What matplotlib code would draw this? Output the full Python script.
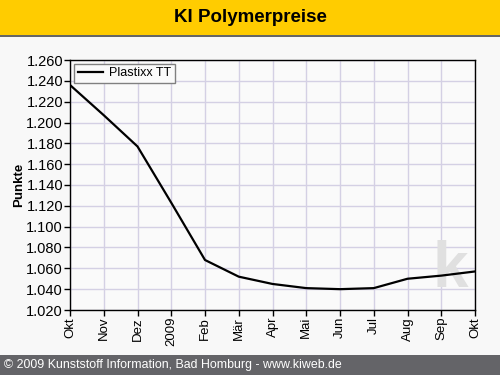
import matplotlib
matplotlib.use("Agg")
import matplotlib.pyplot as plt

# Data
months = ["Okt", "Nov", "Dez", "2009", "Feb", "Mär", "Apr", "Mai",
          "Jun", "Jul", "Aug", "Sep", "Okt"]
plastixx_tt = [1.236, 1.207, 1.177, 1.123, 1.068, 1.052, 1.045, 1.041,
               1.040, 1.041, 1.050, 1.053, 1.057]
y_ticks = [1.020 + 0.020 * i for i in range(13)]
y_labels = [f"{v:.3f}" for v in y_ticks]

plt.rcParams["font.family"] = ["Liberation Sans", "DejaVu Sans"]

fig = plt.figure(figsize=(5, 3.75), dpi=100)
fig.patch.set_facecolor("#f8f8f8")

# Title band
fig.patches.append(plt.Rectangle((0, 1 - 35 / 375), 1, 35 / 375, transform=fig.transFigure,
                                 facecolor="#ffcc00", edgecolor="none", zorder=0))
fig.patches.append(plt.Rectangle((0, 1 - 37 / 375), 1, 2 / 375, transform=fig.transFigure,
                                 facecolor="#666666", edgecolor="none", zorder=0))
fig.text(0.5, 1 - 18 / 375, "KI Polymerpreise", ha="center", va="center",
         fontsize=13.5, fontweight="bold", color="black")

# Footer band
fig.patches.append(plt.Rectangle((0, 0), 1, 20 / 375, transform=fig.transFigure,
                                 facecolor="#646468", edgecolor="none", zorder=0))
fig.text(4 / 500, 10 / 375, "© 2009 Kunststoff Information, Bad Homburg - www.kiweb.de",
         ha="left", va="center", fontsize=8.9, color="white")

ax = fig.add_axes([70 / 500, 1 - 310 / 375, 405 / 500, 250 / 375])
ax.set_facecolor("#fafafa")
x = list(range(len(months)))
ax.plot(x, plastixx_tt, color="black", linewidth=1.6, label="Plastixx TT", zorder=3)

ax.set_xlim(0, len(months) - 1)
ax.set_ylim(1.020, 1.260)
ax.set_xticks(x)
ax.set_xticklabels(months, rotation=90, fontsize=9.5)
ax.set_yticks(y_ticks)
ax.set_yticklabels(y_labels, fontsize=10.5)
ax.grid(True, color="#d4d0e4", linewidth=1)
ax.set_axisbelow(True)
ax.tick_params(direction="out", length=4, width=1, pad=1)
for s in ax.spines.values():
    s.set_color("black")
    s.set_linewidth(1)
ax.set_ylabel("Punkte", fontsize=9.5, fontweight="bold")
ax.yaxis.set_label_coords(-0.112, 0.5)

# watermark
ax.text(0.94, 0.04, "k", transform=ax.transAxes, ha="center", va="bottom",
        fontsize=46, fontweight="bold", color="#e0e0e0", zorder=1)

leg = ax.legend(loc="upper left", fontsize=9, frameon=True, fancybox=False,
                borderpad=0.3, handlelength=2.0, handletextpad=0.5, borderaxespad=0.3)
leg.get_frame().set_edgecolor("#808080")
leg.get_frame().set_facecolor("#fafafa")
leg.get_frame().set_alpha(1)

fig.savefig("out.png", dpi=100, facecolor=fig.get_facecolor())
